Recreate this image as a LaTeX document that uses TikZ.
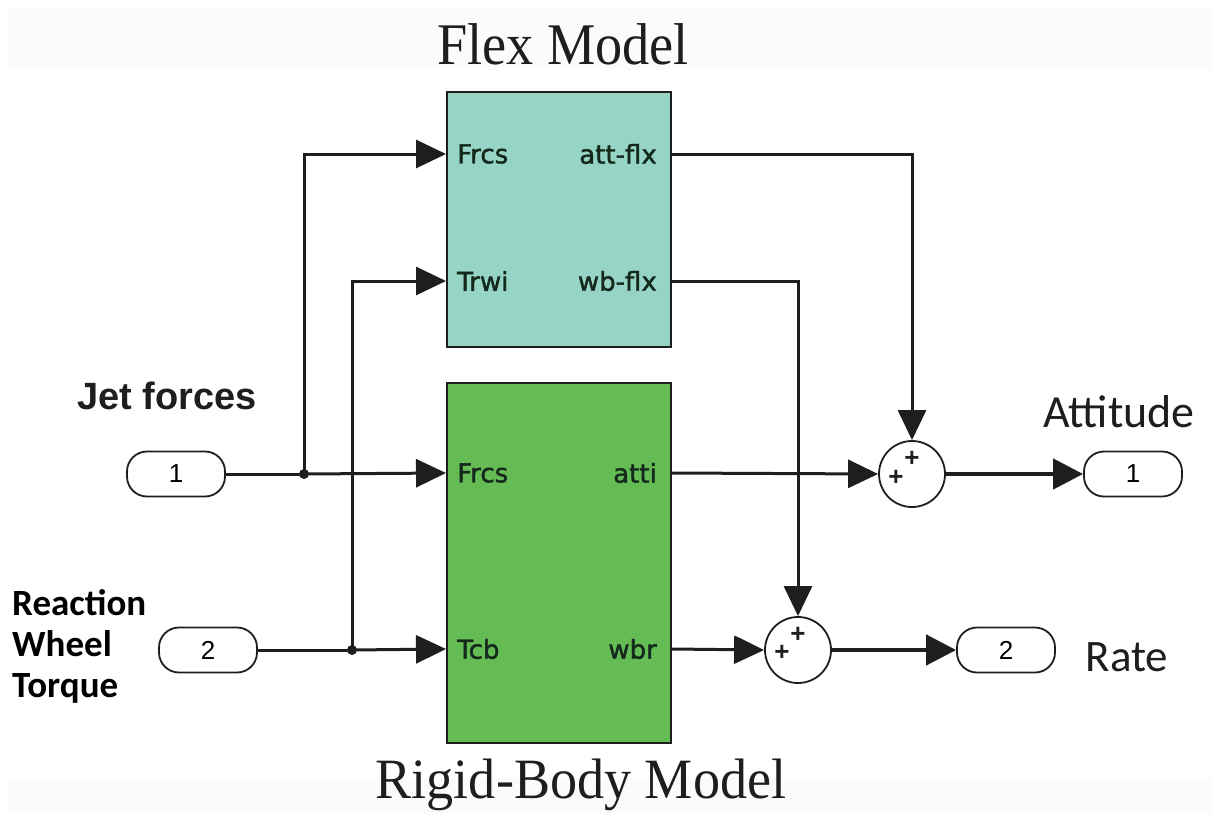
\documentclass[tikz,border=0pt]{standalone}
\usepackage{fontspec}
\setmainfont{Liberation Serif}
\newfontfamily\arialf{Liberation Sans}
\newfontfamily\calf{Carlito}
\newfontfamily\portf[FakeBold=1.5]{DejaVu Sans}
\usetikzlibrary{arrows.meta,calc}
\definecolor{flexfill}{RGB}{150,213,197}
\definecolor{rigidfill}{RGB}{102,188,84}
\definecolor{ink}{RGB}{30,30,30}
\definecolor{porttext}{RGB}{20,40,28}
\definecolor{bandfill}{RGB}{252,251,249}
\tikzset{
  blk/.style={draw=ink, line width=2pt, minimum width=224pt, inner sep=0pt},
  portlbl/.style={font=\portf\fontsize{26}{26}\selectfont, text=porttext, inner sep=0pt},
  io/.style={draw=ink, line width=1.8pt, rounded corners=20pt, minimum width=98pt, minimum height=45pt, inner sep=0pt, font=\arialf\fontsize{26}{26}\selectfont},
  sumblk/.style={draw=ink, circle, line width=1.8pt, minimum size=66pt, inner sep=0pt},
  sig/.style={draw=ink, line width=3pt, -{Triangle[length=30pt,width=28pt]}},
  sigthick/.style={draw=ink, line width=4.5pt, -{Triangle[length=30pt,width=30pt]}},
  wire/.style={draw=ink, line width=3pt},
  jdot/.style={circle, fill=ink, minimum size=10pt, inner sep=0pt},
  pl/.style={font=\arialf\bfseries\fontsize{26}{26}\selectfont, inner sep=0pt, text=ink}
}
\begin{document}
\begin{tikzpicture}[x=1pt,y=-1pt]
\useasboundingbox (0,0) rectangle (1220,814);
\fill[bandfill] (8,8) rectangle (1212,70);
\fill[bandfill] (8,778) rectangle (1212,814);
% titles
\node[font=\fontsize{59}{60}\selectfont, inner sep=0pt, text=ink] (tflex) at (563,44) {\scalebox{0.92}[1]{Flex Model}};
\node[font=\fontsize{57}{60}\selectfont, inner sep=0pt, text=ink] (trigid) at (581,785) {\scalebox{0.95}[1]{Rigid-Body Model}};
% blocks
\node[blk, fill=flexfill, minimum height=255pt] (flex) at (559,219) {};
\node[blk, fill=rigidfill, minimum height=360pt] (rigid) at (559,563) {};
% port labels
\node[portlbl, anchor=west] (fFrcs) at (457,154) {Frcs};
\node[portlbl, anchor=west] (fTrwi) at (457,281) {Trwi};
\node[portlbl, anchor=east] (fatt) at (657,154) {att-flx};
\node[portlbl, anchor=east] (fwb) at (657,281) {wb-flx};
\node[portlbl, anchor=west] (rFrcs) at (457,473) {Frcs};
\node[portlbl, anchor=west] (rTcb) at (457,649) {Tcb};
\node[portlbl, anchor=east] (ratti) at (657,473) {atti};
\node[portlbl, anchor=east] (rwbr) at (657,649) {wbr};
% inports / outports
\node[io] (in1) at (176,474) {1};
\node[io] (in2) at (208,650) {2};
\node[io] (out1) at (1133,474) {1};
\node[io] (out2) at (1006,650) {2};
% sums
\node[sumblk] (sum1) at (912,474) {};
\node[sumblk] (sum2) at (798,650) {};
\node[pl] (s1a) at (912,459) {+};
\node[pl] (s1b) at (896,478) {+};
\node[pl] (s2a) at (798,635) {+};
\node[pl] (s2b) at (782,653) {+};
% junctions
\node[jdot] (j1) at (304,474) {};
\node[jdot] (j2) at (352,650) {};
% labels
\node[font=\arialf\bfseries\fontsize{38}{38}\selectfont, inner sep=0pt, text=ink] (ljet) at (167,396) {Jet forces};
\node[font=\calf\bfseries\fontsize{37}{41}\selectfont, align=left, anchor=north west, inner sep=0pt, text=black] (lrw) at (12,589) {Reaction\\Wheel\\Torque};
\node[font=\calf\fontsize{46}{46}\selectfont, inner sep=0pt, text=ink] (latt) at (1119,412) {Attitude};
\node[font=\calf\fontsize{45}{45}\selectfont, inner sep=0pt, text=ink] (lrate) at (1127,657) {Rate};
% wires
\draw[wire] (in1.east) -- (j1.center);
\draw[sig] (j1.center) -- (rigid.west |- rFrcs);
\draw[sig] (j1.center) |- (flex.west |- fFrcs);
\draw[wire] (in2.east) -- (j2.center);
\draw[sig] (j2.center) -- (rigid.west |- rTcb);
\draw[sig] (j2.center) |- (flex.west |- fTrwi);
\draw[sig] (flex.east |- fatt) -| (sum1.north);
\draw[sig] (flex.east |- fwb) -| (sum2.north);
\draw[sig] (rigid.east |- ratti) -- (sum1.west);
\draw[sig] (rigid.east |- rwbr) -- (sum2.west);
\draw[sigthick] (sum1.east) -- (out1.west);
\draw[sigthick] (sum2.east) -- (out2.west);
\end{tikzpicture}
\end{document}
